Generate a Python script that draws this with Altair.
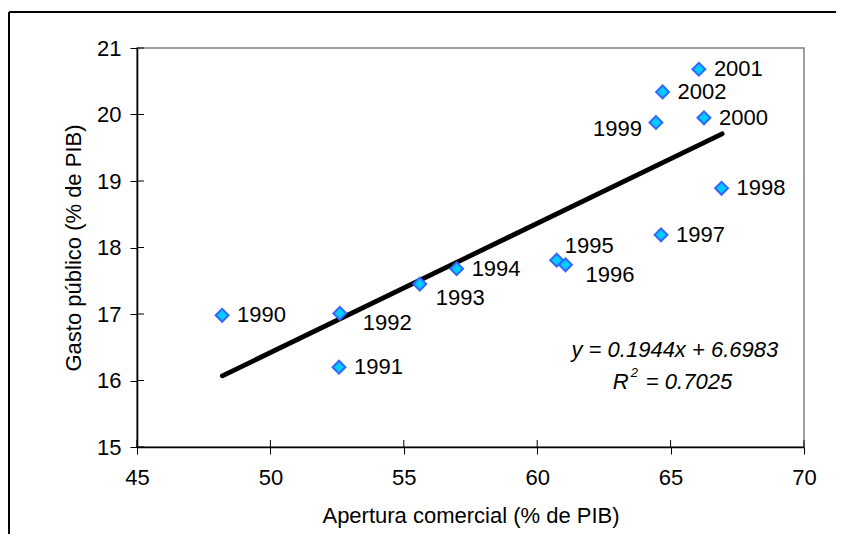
import altair as alt
import pandas as pd

# ---- data ----
years = [1990, 1991, 1992, 1993, 1994, 1995, 1996, 1997, 1998, 1999, 2000, 2001, 2002]
apertura = [48.19, 52.57, 52.60, 55.60, 56.98, 60.73, 61.06, 64.64, 66.91, 64.45, 66.25, 66.06, 64.70]
gasto = [16.98, 16.20, 17.01, 17.45, 17.68, 17.81, 17.74, 18.19, 18.89, 19.88, 19.95, 20.68, 20.34]

trend_x = [48.2, 66.93]
trend_y = [16.07, 19.71]

x_ticks = [45, 50, 55, 60, 65, 70]
y_ticks = [15, 16, 17, 18, 19, 20, 21]

eq_text = "y = 0.1944x + 6.6983"
r2_text = "= 0.7025"

FONT = "Liberation Sans"
FS = 22
W, H = 667, 399

df = pd.DataFrame({"year": years, "x": apertura, "y": gasto})
df["label"] = df["year"].astype(str)
trend = pd.DataFrame({"x": trend_x, "y": trend_y})

xs = alt.Scale(domain=[45, 70], nice=False, zero=False)
ys = alt.Scale(domain=[15, 21], nice=False, zero=False)

x_axis = alt.Axis(values=x_ticks, grid=False, title="Apertura comercial (% de PIB)", format="d",
                  tickSize=7, labelPadding=13, titlePadding=17, labelFlush=False)
y_axis = alt.Axis(values=y_ticks, grid=False, title="Gasto público (% de PIB)", format="d",
                  tickSize=7, labelPadding=9, titlePadding=11, labelFlush=False)

base = alt.Chart(df)

points = base.mark_point(shape="diamond", size=165, filled=True, fill="#00CCFF",
                         stroke="#3366FF", strokeWidth=2, opacity=1).encode(
    x=alt.X("x:Q", scale=xs, axis=x_axis),
    y=alt.Y("y:Q", scale=ys, axis=y_axis),
)

line = alt.Chart(trend).mark_line(color="black", strokeWidth=4.8, strokeCap="round").encode(
    x=alt.X("x:Q", scale=xs),
    y=alt.Y("y:Q", scale=ys),
)

# label placement per year (pixel offsets, align)
special = {
    1992: (23, 10, "left"),
    1993: (16, 14, "left"),
    1995: (8, -14, "left"),
    1996: (20, 10, "left"),
    1999: (-14, 7, "right"),
}
label_layers = []
default_years = [y for y in years if y not in special]
label_layers.append(
    base.transform_filter(alt.FieldOneOfPredicate(field="year", oneOf=default_years))
    .mark_text(align="left", baseline="middle", dx=15, font=FONT, fontSize=FS, color="black")
    .encode(x=alt.X("x:Q", scale=xs), y=alt.Y("y:Q", scale=ys), text="label:N")
)
for yr, (ddx, ddy, al) in special.items():
    label_layers.append(
        base.transform_filter(alt.datum.year == yr)
        .mark_text(align=al, baseline="middle", dx=ddx, dy=ddy, font=FONT, fontSize=FS, color="black")
        .encode(x=alt.X("x:Q", scale=xs), y=alt.Y("y:Q", scale=ys), text="label:N")
    )

# equation annotation
ann = pd.DataFrame({"x": [65.16], "y1": [16.46], "y2": [15.97]})
eq = alt.Chart(ann).mark_text(align="center", baseline="middle", font=FONT, fontSize=FS,
                              fontStyle="italic", color="black").encode(
    x=alt.X("x:Q", scale=xs), y=alt.Y("y1:Q", scale=ys), text=alt.value(eq_text))
r_main = alt.Chart(ann).mark_text(align="left", baseline="middle", font=FONT, fontSize=FS,
                                  fontStyle="italic", color="black", dx=-62).encode(
    x=alt.X("x:Q", scale=xs), y=alt.Y("y2:Q", scale=ys), text=alt.value("R"))
r_sup = alt.Chart(ann).mark_text(align="left", baseline="middle", font=FONT, fontSize=13,
                                 fontStyle="italic", color="black", dx=-44, dy=-9).encode(
    x=alt.X("x:Q", scale=xs), y=alt.Y("y2:Q", scale=ys), text=alt.value("2"))
r_val = alt.Chart(ann).mark_text(align="left", baseline="middle", font=FONT, fontSize=FS,
                                 fontStyle="italic", color="black", dx=-29).encode(
    x=alt.X("x:Q", scale=xs), y=alt.Y("y2:Q", scale=ys), text=alt.value(r2_text))

# inner halves of the crossing ticks
xt = pd.DataFrame({"x": x_ticks})
yt = pd.DataFrame({"y": y_ticks})
x_inner = alt.Chart(xt).mark_rule(color="black", strokeWidth=1).encode(
    x=alt.X("x:Q", scale=xs), y=alt.value(H), y2=alt.value(H - 7))
y_inner = alt.Chart(yt).mark_rule(color="black", strokeWidth=1).encode(
    y=alt.Y("y:Q", scale=ys), x=alt.value(0), x2=alt.value(7))

# outer chart frame
frame_top = alt.Chart(xt).mark_rule(color="black", strokeWidth=1.2, clip=False).encode(
    x=alt.value(-128), x2=alt.value(1000), y=alt.value(-36))
frame_left = alt.Chart(xt).mark_rule(color="black", strokeWidth=1.2, clip=False).encode(
    x=alt.value(-128), y=alt.value(-36), y2=alt.value(800))

chart = alt.layer(
    frame_top, frame_left, line, points, x_inner, y_inner, *label_layers, eq, r_main, r_sup, r_val
).properties(
    width=W, height=H,
    autosize=alt.AutoSizeParams(type="none"),
    padding={"left": 129, "top": 40, "right": 32, "bottom": 87},
).configure_view(
    stroke="#808080", strokeWidth=1.5
).configure_axis(
    domainColor="black", domainWidth=1.6, tickColor="black", tickWidth=1,
    labelFont=FONT, labelFontSize=FS, labelColor="black",
    titleFont=FONT, titleFontSize=FS, titleColor="black", titleFontWeight="normal",
)

chart.save("out.html", embed_options={"renderer": "svg", "actions": False})
